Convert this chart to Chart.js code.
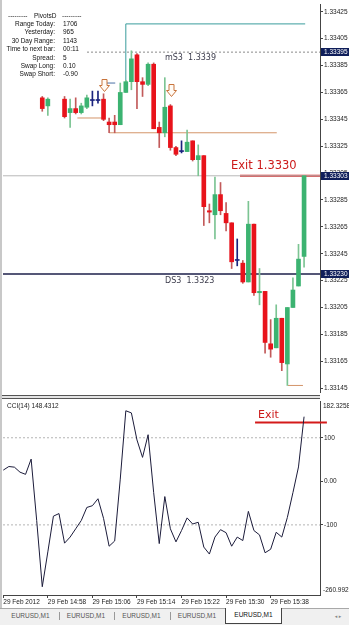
<!DOCTYPE html>
<html>
<head>
<meta charset="utf-8">
<script src="https://cdn.jsdelivr.net/npm/chart.js@4"></script>
<style>
html, body { margin:0; padding:0; width:349px; height:625px; overflow:hidden; background:#fff;
  font-family:"Liberation Sans", Arial, sans-serif; }
#wrap { position:relative; width:349px; height:625px; }
.cv { position:absolute; left:0; }
.lbl { position:absolute; white-space:pre; }
#info { position:absolute; left:3px; top:3px; width:83px; height:79px; background:#fff; font-size:6.5px; color:#111; }
#info div { position:absolute; height:8px; line-height:8px; white-space:pre; }
#tabs { position:absolute; left:0; top:608px; width:349px; height:17px; background:#f0f0f0; border-top:1px solid #a8a8a8;
  font-size:6.5px; color:#555; }
.tab { position:absolute; top:0; height:14px; line-height:14px; text-align:center; }
.sep { position:absolute; top:3px; height:8px; border-left:1px solid #999; }
</style>
</head>
<body>
<div id="wrap">
  <div style="position:absolute;left:0;top:0;width:2px;height:608px;background:#c8c8c8"></div>
  <canvas id="price" class="cv" style="top:0" width="349" height="397"></canvas>
  <div style="position:absolute;left:2px;top:395px;width:318px;height:4px;background:#e4e4e4;border-top:1px solid #555;border-bottom:1px solid #555;box-sizing:border-box"></div>
  <canvas id="cci" class="cv" style="top:397px" width="349" height="211"></canvas>

  <div id="info"></div>

  <div class="lbl" style="left:165px;top:53px;font:8px 'DejaVu Sans';line-height:10px;color:#3c3c4c">mS3  1.3339</div>
  <div class="lbl" style="left:165px;top:276px;font:8px 'DejaVu Sans';line-height:10px;color:#3c3c4c">DS3  1.3323</div>
  <div class="lbl" style="left:231px;top:158px;font:11.5px 'DejaVu Sans';line-height:14px;color:#cc1a1a">Exit 1.3330</div>
  <div class="lbl" style="left:258px;top:408px;font:11px 'DejaVu Sans';line-height:13px;color:#cc1a1a">Exit</div>
  <div class="lbl" style="left:7px;top:402px;font-size:6.5px;line-height:8px;color:#222">CCI(14) 148.4312</div>

  <div id="tabs"></div>
</div>

<script>
// ---- data (EURUSD M1, 29 Feb 2012) ----
// candles: index 0..54, null where nothing is visible
const opens  = [null,null,null,null,null,null,null,
  1.33361,1.33355,null,null,1.33360,1.33350,1.33353,1.33350,1.33354,1.33359,1.33359,1.33360,1.33343,1.33343,
  1.33341,1.33365,1.33373,1.33393,1.33373,1.33371,1.33386,1.33339,1.33335,1.33355,1.33324,1.33321,1.33321,1.33329,
  1.33315,1.33318,1.33277,1.33274,1.33289,1.33275,1.33268,1.33240,1.33238,1.33224,1.33267,1.33216,1.33217,1.33178,
  1.33175,1.33197,1.33163,1.33205,1.33221,1.33243];
const highs  = [null,null,null,null,null,null,null,
  1.33362,1.33361,null,null,1.33362,1.33360,1.33361,1.33357,1.33363,1.33366,1.33366,1.33364,1.33346,1.33348,
  1.33372,1.33374,1.33396,1.33394,1.33376,1.33387,1.33387,1.33343,1.33376,1.33356,1.33325,1.33329,1.33337,1.33329,
  1.33326,1.33318,1.33282,1.33302,1.33298,1.33283,1.33268,1.33256,1.33240,1.33284,1.33267,1.33234,1.33217,1.33196,
  1.33207,1.33197,1.33205,1.33227,1.33252,1.33303];
const lows   = [null,null,null,null,null,null,null,
  1.33351,1.33348,null,null,1.33346,1.33339,1.33349,1.33349,1.33353,1.33355,1.33357,1.33344,1.33335,1.33335,
  1.33341,1.33365,1.33367,1.33353,1.33362,1.33370,1.33338,1.33324,1.33332,1.33322,1.33318,1.33320,1.33321,1.33314,
  1.33303,1.33266,1.33268,1.33256,1.33274,1.33262,1.33234,1.33236,1.33223,1.33224,1.33214,1.33207,1.33171,1.33168,
  1.33175,1.33158,1.33147,1.33205,1.33221,1.33235];
const closes = [null,null,null,null,null,null,null,
  1.33353,1.33360,null,null,1.33347,1.33353,1.33350,1.33355,1.33361,1.33359,1.33359,1.33345,1.33341,1.33341,
  1.33365,1.33373,1.33390,1.33373,1.33371,1.33386,1.33338,1.33335,1.33354,1.33324,1.33319,1.33321,1.33328,1.33315,
  1.33318,1.33280,1.33276,1.33289,1.33277,1.33268,1.33239,1.33240,1.33224,1.33267,1.33216,1.33217,1.33179,1.33174,
  1.33197,1.33164,1.33205,1.33218,1.33241,1.33303];

const cci = [25.7,34,32.5,21,16,51,-90,-242,-162,-80,-74,-142,-128,-109,-90,-60,-56,-40,-85,-149,-137,
  5,162,157,95,55,107,-26,-143,-35,-109,-139,-113,-84,-98,-94,-151,-167,-128,-111,-118,-149,-128,-136,
  -69,-113,-123,-164,-156,-117,-128,-83,-26,33,148.43];

const priceTicks = [1.33425,1.33405,1.33385,1.33365,1.33345,1.33325,1.33305,1.33285,1.33265,
  1.33245,1.33225,1.33205,1.33185,1.33165,1.33145];
const hlLevels = [1.33395, 1.33303, 1.33230];
const mS3 = 1.33395, bidLevel = 1.33303, DS3 = 1.33230;
const exitLevel = 1.33303, exitFrom = 42.5;
const tealPath = [[22,1.33372],[22,1.33416],[54.2,1.33416]];
const bluePath = [[18.6,1.33372],[20.1,1.33372]];
const tanLines = [[[13.3,1.33346],[17.7,1.33346]], [[19,1.33335],[49.1,1.33335]], [[51.1,1.33147],[53.8,1.33147]]];
const arrowIdx = [18.1, 30.1];
const arrowTop = [1.33375, 1.33371];

const cciTicks = [100, 0, -100];
const cciMax = 182.3258, cciMin = -260.992;
const cciExit = 135, cciExitFrom = 45.2, cciExitTo = 58.1;

const timeTickIdx = [0, 8, 16, 24, 32, 40, 48];
const timeLabels = ['29 Feb 2012','29 Feb 14:58','29 Feb 15:06','29 Feb 15:14','29 Feb 15:22','29 Feb 15:30','29 Feb 15:38'];

const infoLabels = ['Range Today:','Yesterday:','30 Day Range:','Time to next bar:','Spread:','Swap Long:','Swap Short:'];
const infoValues = ['1706','965','1143','00:11','5','0.10','-0.90'];
const tabNames = ['EURUSD,M1','EURUSD,M1','EURUSD,M1','EURUSD,M1','EURUSD,M1'];

// ---- scale limits ----
const xMin = -0.05, xMax = 56.86;
const priceMin = 1.3314206, priceMax = 1.3343014;
const smallFont = { family: 'Liberation Sans', size: 6.5 };

// ---- candles ----
const idx = closes.map((c, i) => i).filter(i => closes[i] !== null);
const kind = i => closes[i] > opens[i] ? 'up' : (closes[i] < opens[i] ? 'down' : 'doji');
const bodyCol = { up: '#3cb371', down: '#e8131b', doji: '#1a237e' };
const wickCol = { up: '#7cc493', down: '#c25a5a', doji: '#1a237e' };

function seg(points, color, width, dash) {
  return { type: 'line', data: points.map(p => ({ x: p[0], y: p[1] })), borderColor: color,
    borderWidth: width, borderDash: dash || [], pointRadius: 0, tension: 0, fill: false, order: 3 };
}

const priceSets = [
  { type: 'bar', data: idx.map(i => ({ x: i, y: [opens[i], closes[i]] })), backgroundColor: idx.map(i => bodyCol[kind(i)]),
    barThickness: 4, minBarLength: 1, grouped: false, order: 1 },
  { type: 'bar', data: idx.map(i => ({ x: i, y: [lows[i], highs[i]] })), backgroundColor: idx.map(i => wickCol[kind(i)]),
    barThickness: 1, grouped: false, order: 2 },
  seg([[xMin, mS3], [xMax, mS3]], '#8a8a8a', 1, [2, 2]),
  seg([[xMin, bidLevel], [xMax, bidLevel]], '#b8b8b8', 1),
  seg([[xMin, DS3], [xMax, DS3]], '#1c1f4a', 1.5),
  seg([[exitFrom, exitLevel], [xMax, exitLevel]], '#d41a1a', 2),
  seg(tealPath, '#3a9c9c', 1),
  seg(bluePath, '#4a6fa5', 1),
  ...tanLines.map(l => seg(l, '#d4956a', 1))
];

const priceMarks = {
  id: 'priceMarks',
  afterDraw(chart) {
    const { ctx, chartArea } = chart;
    const x = chart.scales.x, y = chart.scales.y;
    ctx.save();
    ctx.strokeStyle = '#c8743c';
    ctx.fillStyle = '#fffaf4';
    ctx.lineWidth = 1;
    arrowIdx.forEach((a, k) => {
      const cx = Math.round(x.getPixelForValue(a)) + 0.5;
      const ty = Math.round(y.getPixelForValue(arrowTop[k])) + 0.5;
      ctx.beginPath();
      ctx.moveTo(cx - 2.5, ty); ctx.lineTo(cx + 2.5, ty); ctx.lineTo(cx + 2.5, ty + 6);
      ctx.lineTo(cx + 5, ty + 6); ctx.lineTo(cx, ty + 12); ctx.lineTo(cx - 5, ty + 6);
      ctx.lineTo(cx - 2.5, ty + 6); ctx.closePath();
      ctx.fill(); ctx.stroke();
    });
    ctx.font = '6.5px "Liberation Sans"';
    ctx.textBaseline = 'middle';
    hlLevels.forEach(v => {
      const py = Math.round(y.getPixelForValue(v));
      ctx.fillStyle = '#0f1e5a';
      ctx.fillRect(chartArea.right + 1, py - 4, 28, 8);
      ctx.fillStyle = '#fff';
      ctx.fillText(v.toFixed(5), chartArea.right + 4, py);
    });
    ctx.restore();
  }
};

new Chart(document.getElementById('price'), {
  type: 'bar',
  data: { datasets: priceSets },
  options: {
    responsive: false, animation: false,
    layout: { padding: { left: 3, top: 3, right: 0, bottom: 2 } },
    plugins: { legend: { display: false }, tooltip: { enabled: false } },
    scales: {
      x: { type: 'linear', min: xMin, max: xMax, offset: false, display: false },
      y: {
        position: 'right', min: priceMin, max: priceMax,
        afterBuildTicks: s => { s.ticks = priceTicks.map(v => ({ value: v })); },
        afterFit: s => { s.width = 29; },
        ticks: { callback: v => Number(v).toFixed(5), font: smallFont, color: '#222', padding: 1, autoSkip: false },
        grid: { drawOnChartArea: false, tickLength: 3, tickColor: '#444' },
        border: { color: '#444' }
      }
    }
  },
  plugins: [priceMarks]
});

// ---- CCI panel ----
const cciEdges = {
  id: 'cciEdges',
  afterDraw(chart) {
    const { ctx, chartArea } = chart;
    ctx.save();
    ctx.font = '6.5px "Liberation Sans"';
    ctx.fillStyle = '#222';
    ctx.textBaseline = 'middle';
    ctx.fillText(cciMax.toFixed(4), chartArea.right + 3, chartArea.top + 4);
    ctx.fillText(cciMin.toFixed(3), chartArea.right + 3, chartArea.bottom - 5);
    ctx.restore();
  }
};

new Chart(document.getElementById('cci'), {
  type: 'line',
  data: {
    datasets: [
      { data: cci.map((v, i) => ({ x: i, y: v })), borderColor: '#1b1b3a', borderWidth: 1, pointRadius: 0, tension: 0 },
      { data: [{ x: xMin, y: 100 }, { x: xMax, y: 100 }], borderColor: '#b4b4b4', borderWidth: 1, borderDash: [2, 2], pointRadius: 0 },
      { data: [{ x: xMin, y: -100 }, { x: xMax, y: -100 }], borderColor: '#b4b4b4', borderWidth: 1, borderDash: [2, 2], pointRadius: 0 },
      { data: [{ x: cciExitFrom, y: cciExit }, { x: cciExitTo, y: cciExit }], borderColor: '#d41a1a', borderWidth: 2, pointRadius: 0, clip: false }
    ]
  },
  options: {
    responsive: false, animation: false,
    layout: { padding: { left: 3, top: 3, right: 0, bottom: 0 } },
    plugins: { legend: { display: false }, tooltip: { enabled: false } },
    scales: {
      x: {
        type: 'linear', min: xMin, max: xMax, offset: false,
        afterBuildTicks: s => { s.ticks = timeTickIdx.map(v => ({ value: v })); },
        afterFit: s => { s.height = 13; },
        ticks: { callback: v => timeLabels[timeTickIdx.indexOf(v)], align: 'start', font: smallFont, color: '#222',
          padding: 0, maxRotation: 0, autoSkip: false },
        grid: { drawOnChartArea: false, tickLength: 3, tickColor: '#444' },
        border: { color: '#444' }
      },
      y: {
        position: 'right', min: cciMin, max: cciMax,
        afterBuildTicks: s => { s.ticks = cciTicks.map(v => ({ value: v })); },
        afterFit: s => { s.width = 29; },
        ticks: { callback: v => v === 0 ? '0.00' : String(v), font: smallFont, color: '#222', padding: 1, autoSkip: false },
        grid: { drawOnChartArea: false, tickLength: 3, tickColor: '#444' },
        border: { color: '#444' }
      }
    }
  },
  plugins: [cciEdges]
});

// ---- info box ----
const info = document.getElementById('info');
function addInfo(text, css) {
  const d = document.createElement('div');
  d.textContent = text;
  Object.assign(d.style, css);
  info.appendChild(d);
}
addInfo('---------', { left: '5px', top: '9px' });
addInfo('PivotsD', { left: '31px', top: '9px' });
addInfo('---------', { left: '59px', top: '9px' });
infoLabels.forEach((t, k) => {
  const top = (17 + k * 8.4) + 'px';
  addInfo(t, { left: '0px', width: '52px', textAlign: 'right', top: top });
  addInfo(infoValues[k], { left: '60px', top: top });
});

// ---- tabs ----
const tabs = document.getElementById('tabs');
tabNames.forEach((t, k) => {
  const d = document.createElement('div');
  d.className = 'tab';
  d.textContent = t;
  d.style.left = (3 + 55.5 * k) + 'px';
  d.style.width = '55px';
  if (k === tabNames.length - 1) {
    d.style.background = '#fff';
    d.style.border = '1px solid #444';
    d.style.borderTop = 'none';
    d.style.color = '#111';
    d.style.top = '-1px';
    d.style.height = '15px';
  } else if (k < tabNames.length - 2) {
    const s = document.createElement('div');
    s.className = 'sep';
    s.style.left = (3 + 55.5 * (k + 1)) + 'px';
    tabs.appendChild(s);
  }
  tabs.appendChild(d);
});
const arr = document.createElement('div');
arr.className = 'tab';
arr.style.left = '328px';
arr.style.width = '20px';
arr.style.color = '#888';
arr.style.fontFamily = 'DejaVu Sans';
arr.style.fontSize = '5px';
arr.textContent = '\u25C2  \u25B8';
tabs.appendChild(arr);
</script>
</body>
</html>
